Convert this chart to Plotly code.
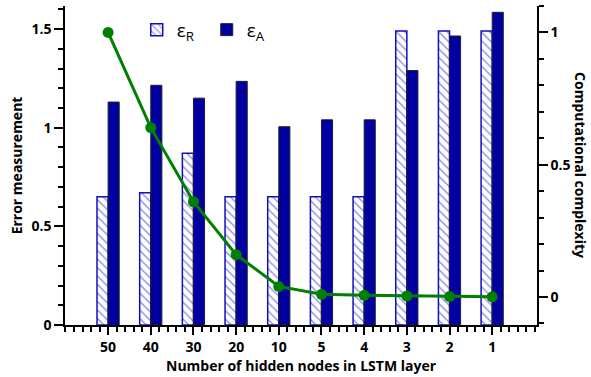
import plotly.graph_objects as go

categories = ["50", "40", "30", "20", "10", "5", "4", "3", "2", "1"]
eps_r = [0.65, 0.67, 0.87, 0.65, 0.65, 0.65, 0.65, 1.49, 1.49, 1.49]
eps_a = [1.13, 1.215, 1.15, 1.235, 1.005, 1.04, 1.04, 1.29, 1.465, 1.585]
complexity = [1.0, 0.64, 0.36, 0.16, 0.04, 0.01, 0.0064, 0.0036, 0.0016, 0.0004]

xpos = list(range(len(categories)))
FONT = "Open Sans"
BW = 0.26

fig = go.Figure()
fig.add_trace(go.Bar(
    x=xpos, y=eps_r, name="ε<sub>R</sub>", width=BW, offset=-BW,
    marker=dict(color="white", line=dict(color="#1010c0", width=1.5),
                pattern=dict(shape="\\", fgcolor="#1010c0", bgcolor="white",
                             size=6, solidity=0.22)),
    yaxis="y"))
fig.add_trace(go.Bar(
    x=xpos, y=eps_a, name="ε<sub>A</sub>", width=BW, offset=0,
    marker=dict(color="#0000a0", line=dict(color="#202030", width=1)),
    yaxis="y"))
fig.add_trace(go.Scatter(
    x=xpos, y=complexity, mode="lines+markers", yaxis="y2",
    line=dict(color="#008000", width=3),
    marker=dict(color="#008000", size=11), showlegend=False))

tickfont = dict(family=FONT, size=14, color="black", weight="bold")
titlefont = dict(family=FONT, size=14, color="black", weight="bold")

fig.update_layout(
    width=591, height=377,
    margin=dict(l=65, r=54, t=6, b=52),
    plot_bgcolor="white", paper_bgcolor="white",
    barmode="overlay",
    showlegend=True,
    legend=dict(orientation="h", x=0.152, y=0.985, xanchor="left", yanchor="top",
                font=dict(family=FONT, size=19, color="black"),
                bgcolor="rgba(0,0,0,0)", entrywidth=25, entrywidthmode="pixels",
                traceorder="normal"),
    xaxis=dict(range=[-1.01, 10.05], tickmode="array", tickvals=xpos,
               ticktext=categories, ticks="outside", ticklen=8, tickwidth=1.5,
               tickcolor="black", showline=True, linecolor="black", linewidth=1.5,
               showgrid=False, zeroline=False, tickfont=tickfont,
               minor=dict(tickmode="linear", tick0=0, dtick=0.2, ticks="outside",
                          ticklen=5, tickwidth=1.5, tickcolor="black", showgrid=False)),
    yaxis=dict(range=[0, 1.617], tickmode="array", tickvals=[0, 0.5, 1, 1.5],
               ticktext=["0", "0.5", "1", "1.5"], ticks="outside", ticklen=9,
               tickwidth=1.5, tickcolor="black", showline=True, linecolor="black",
               linewidth=1.5, showgrid=False, zeroline=False, tickfont=tickfont,
               minor=dict(tickmode="linear", tick0=0, dtick=0.1, ticks="outside",
                          ticklen=5, tickwidth=1.5, tickcolor="black", showgrid=False)),
    yaxis2=dict(range=[-0.106, 1.10], overlaying="y", side="right",
                tickmode="array", tickvals=[0, 0.5, 1], ticktext=["0", "0.5", "1"],
                ticks="outside", ticklen=9, tickwidth=1.5, tickcolor="black",
                showline=True, linecolor="black", linewidth=1.5, showgrid=False,
                zeroline=False, tickfont=tickfont,
                minor=dict(tickmode="linear", tick0=0, dtick=0.1, ticks="outside",
                           ticklen=5, tickwidth=1.5, tickcolor="black", showgrid=False)),
    annotations=[
        dict(text="Error measurement", xref="paper", yref="paper", x=-0.102, y=0.5,
             textangle=-90, showarrow=False, xanchor="center", yanchor="middle",
             font=titlefont),
        dict(text="Computational complexity", xref="paper", yref="paper", x=1.092, y=0.5,
             textangle=90, showarrow=False, xanchor="center", yanchor="middle",
             font=titlefont),
        dict(text="Number of hidden nodes in LSTM layer", xref="paper", yref="paper",
             x=0.5, y=-0.128, showarrow=False, xanchor="center", yanchor="middle",
             font=titlefont),
    ],
)

fig.write_html("out.html", config={"displayModeBar": False},
               post_script="document.body.style.margin='0';document.body.style.overflow='hidden';")
